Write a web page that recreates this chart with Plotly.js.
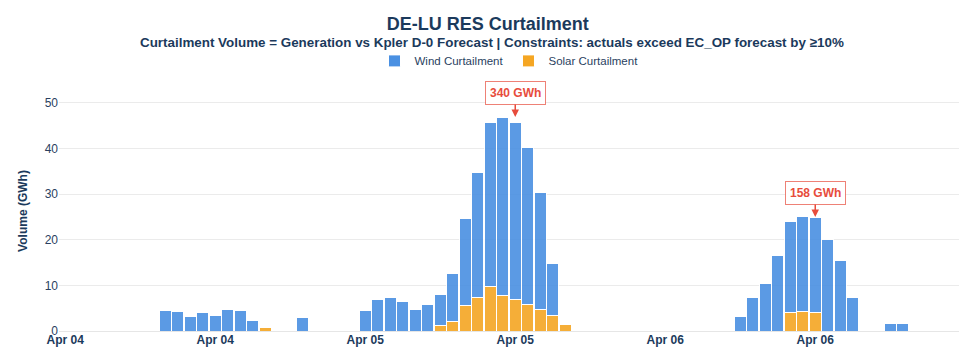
<!DOCTYPE html>
<html>
<head>
<meta charset="utf-8">
<script src="https://cdn.plot.ly/plotly-3.0.1.min.js"></script>
<style>html,body{margin:0;padding:0;background:#fff;}#chart{width:966px;height:359px;}</style>
</head>
<body>
<div id="chart"></div>
<script>
// Hourly series starting at this timestamp (72 hours)
var startTime = "2025-04-04T00:00:00";

// Wind curtailment (GWh), hourly
var windCurtailment = [
  0, 0, 0, 0, 0, 0, 0, 0,
  4.4, 4.2, 3.2, 4.1, 3.5, 4.8, 4.6, 2.35,
  0, 0, 0, 2.9, 0, 0, 0, 0,
  4.6, 7.0, 7.4, 6.5, 4.8, 5.8, 6.7, 10.4,
  19.0, 27.4, 35.9, 39.1, 38.7, 34.5, 25.6, 11.4,
  0, 0, 0, 0, 0, 0, 0, 0,
  0, 0, 0, 0, 0, 0, 3.16, 7.4,
  10.4, 16.6, 20.0, 20.7, 20.8, 20.1, 15.5, 7.4,
  0, 0, 1.6, 1.7, 0, 0, 0, 0
];

// Solar curtailment (GWh), hourly
var solarCurtailment = [
  0, 0, 0, 0, 0, 0, 0, 0,
  0, 0, 0, 0, 0, 0, 0, 0,
  0.8, 0.2, 0, 0, 0, 0, 0, 0,
  0, 0, 0, 0, 0, 0, 1.2, 2.1,
  5.6, 7.3, 9.7, 7.8, 6.9, 5.8, 4.7, 3.4,
  1.4, 0, 0, 0, 0, 0, 0, 0,
  0, 0, 0, 0, 0, 0, 0, 0,
  0, 0, 4.0, 4.3, 4.0, 0, 0, 0,
  0, 0, 0, 0, 0, 0, 0, 0
];

// Daily total labels
var labelDays = ["2025-04-05", "2025-04-06"];
var labelTexts = ["340 GWh", "158 GWh"];

var titleText = "DE-LU RES Curtailment";
var subtitleText = "Curtailment Volume = Generation vs Kpler D-0 Forecast | Constraints: actuals exceed EC_OP forecast by ≥10%";

// timestamps
var t0 = new Date(startTime + "Z").getTime();
var times = windCurtailment.map(function(_, i) {
  var d = new Date(t0 + i * 3600000);
  return d.toISOString().slice(0, 19).replace("T", " ");
});

var FONT = "Liberation Sans, Arial, sans-serif";
var navy = "#1b3a5c";
var windColor = "#4a90e2";
var solarColor = "#f5a623";

var traces = [
  {
    type: "bar", name: "Solar Curtailment", x: times, y: solarCurtailment,
    marker: {color: solarColor, opacity: 0.9, line: {color: "white", width: 1}},
    hovertemplate: "%{y:.1f} GWh<extra>Solar</extra>"
  },
  {
    type: "bar", name: "Wind Curtailment", x: times, y: windCurtailment,
    marker: {color: windColor, opacity: 0.9, line: {color: "white", width: 1}},
    hovertemplate: "%{y:.1f} GWh<extra>Wind</extra>"
  }
];

// annotations at daily noon, at daily max of stacked total
var annotations = labelDays.map(function(day, k) {
  var maxTotal = 0;
  times.forEach(function(t, i) {
    if (t.slice(0, 10) === day) {
      var tot = windCurtailment[i] + solarCurtailment[i];
      if (tot > maxTotal) maxTotal = tot;
    }
  });
  return {
    x: day + " 12:00:00", y: maxTotal, xref: "x", yref: "y",
    text: "<b>" + labelTexts[k] + "</b>",
    showarrow: true, arrowhead: 2, arrowsize: 1, arrowwidth: 1.5,
    arrowcolor: "#e74c3c", ax: 0, ay: -24,
    font: {family: FONT, size: 12, color: "#e74c3c"},
    bgcolor: "white", bordercolor: "rgba(231,76,60,0.7)", borderwidth: 1, borderpad: 4
  };
});

// subtitle as a paper annotation
annotations.push({
  xref: "paper", yref: "paper", x: 0.481, y: 1.204, xanchor: "center", yanchor: "middle",
  showarrow: false,
  text: "<b>" + subtitleText + "</b>",
  font: {family: FONT, size: 13.4, color: navy}
});

var layout = {
  width: 966, height: 359,
  margin: {l: 59, r: 7, t: 91, b: 28},
  paper_bgcolor: "white", plot_bgcolor: "white",
  font: {family: FONT, color: "#2a3f5f", size: 12},
  title: {
    text: "<b>" + titleText + "</b>",
    font: {family: FONT, size: 18, color: navy},
    x: 0.505, xanchor: "center", xref: "container",
    y: 0.933, yanchor: "middle", yref: "container"
  },
  barmode: "stack",
  bargap: 0.05,
  showlegend: true,
  legend: {
    orientation: "h", x: 0.5, xanchor: "center", y: 1.065, yanchor: "bottom",
    traceorder: "reversed",
    font: {family: FONT, size: 11.5, color: "#2a3f5f"}
  },
  xaxis: {
    type: "date",
    tick0: "2025-04-04 00:00:00", dtick: 43200000, tickformat: "%b %d",
    tickfont: {family: FONT, size: 12, color: navy, weight: "bold"},
    showgrid: false, zeroline: false, showline: false, ticks: ""
  },
  yaxis: {
    range: [0, 52.6],
    dtick: 10,
    title: {text: "<b>Volume (GWh)</b>", font: {family: FONT, size: 12, color: navy}, standoff: 14},
    tickfont: {family: FONT, size: 12, color: "#2a3f5f"},
    gridcolor: "#ebebeb", zeroline: true, zerolinecolor: "#e6e6e6", zerolinewidth: 1,
    showline: false, ticks: ""
  },
  annotations: annotations
};

Plotly.newPlot("chart", traces, layout, {displayModeBar: false, staticPlot: true});
</script>
</body>
</html>
